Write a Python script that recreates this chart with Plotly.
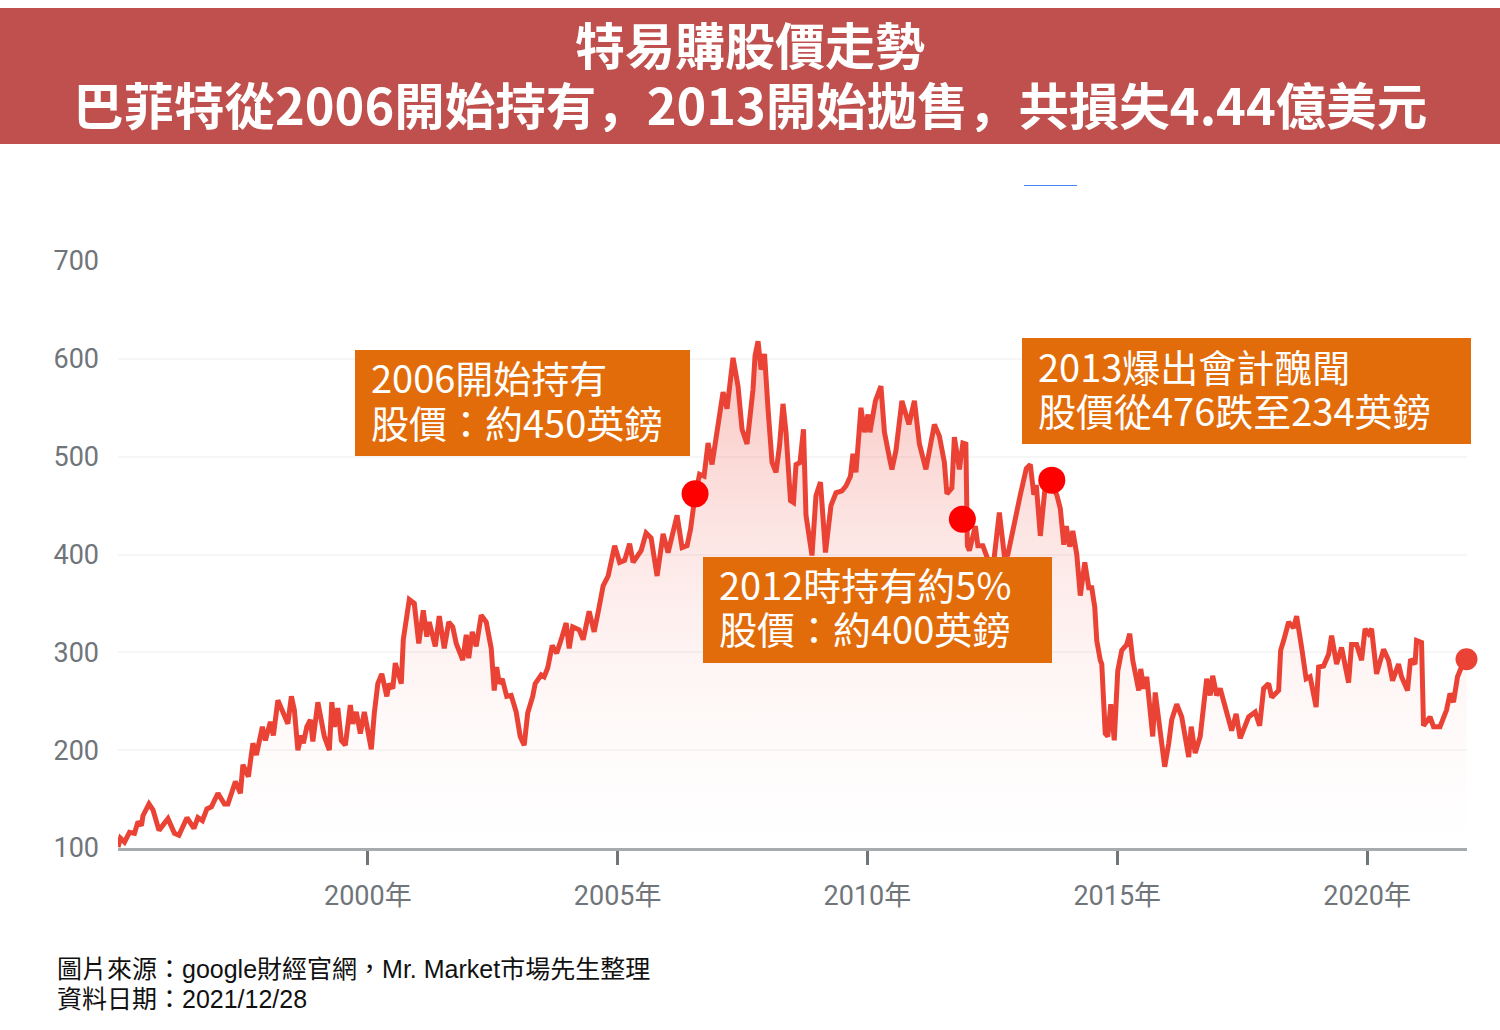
import plotly.graph_objects as go

years = [1995.00,1995.05,1995.13,1995.23,1995.33,1995.40,1995.47,1995.50,1995.62,1995.70,1995.82,1996.00,1996.13,1996.22,1996.30,1996.38,1996.52,1996.60,1996.69,1996.78,1996.87,1997.00,1997.13,1997.20,1997.35,1997.45,1997.50,1997.61,1997.70,1997.77,1997.89,1997.95,1998.05,1998.11,1998.20,1998.29,1998.40,1998.47,1998.53,1998.60,1998.67,1998.71,1998.78,1998.85,1998.90,1999.00,1999.13,1999.23,1999.28,1999.33,1999.40,1999.47,1999.55,1999.65,1999.70,1999.77,1999.85,1999.93,1999.99,2000.07,2000.13,2000.20,2000.28,2000.38,2000.43,2000.50,2000.55,2000.67,2000.71,2000.83,2000.93,2001.02,2001.11,2001.18,2001.23,2001.35,2001.43,2001.53,2001.62,2001.70,2001.77,2001.90,2001.97,2002.02,2002.09,2002.17,2002.27,2002.37,2002.47,2002.53,2002.58,2002.63,2002.69,2002.78,2002.87,2002.97,2003.05,2003.13,2003.20,2003.30,2003.35,2003.47,2003.53,2003.60,2003.69,2003.78,2003.87,2003.97,2004.03,2004.10,2004.23,2004.31,2004.43,2004.53,2004.61,2004.71,2004.81,2004.94,2005.04,2005.14,2005.24,2005.31,2005.47,2005.57,2005.67,2005.79,2005.91,2006.01,2006.19,2006.29,2006.39,2006.46,2006.54,2006.64,2006.73,2006.81,2006.89,2007.01,2007.11,2007.19,2007.31,2007.41,2007.49,2007.59,2007.71,2007.75,2007.81,2007.87,2007.94,2008.01,2008.09,2008.17,2008.24,2008.31,2008.37,2008.46,2008.52,2008.57,2008.65,2008.72,2008.77,2008.89,2008.97,2009.06,2009.16,2009.27,2009.37,2009.49,2009.57,2009.66,2009.71,2009.77,2009.87,2009.94,2010.01,2010.05,2010.16,2010.27,2010.34,2010.44,2010.49,2010.57,2010.69,2010.83,2010.94,2011.04,2011.17,2011.34,2011.44,2011.54,2011.59,2011.69,2011.74,2011.84,2011.91,2011.97,2011.99,2012.00,2012.04,2012.16,2012.21,2012.31,2012.41,2012.51,2012.64,2012.74,2012.81,2012.93,2013.06,2013.18,2013.26,2013.33,2013.38,2013.46,2013.56,2013.69,2013.79,2013.86,2013.93,2013.98,2014.05,2014.11,2014.19,2014.26,2014.35,2014.43,2014.49,2014.55,2014.59,2014.66,2014.69,2014.76,2014.81,2014.87,2014.94,2015.01,2015.09,2015.19,2015.25,2015.31,2015.43,2015.47,2015.53,2015.59,2015.71,2015.76,2015.86,2015.95,2016.03,2016.09,2016.19,2016.29,2016.43,2016.48,2016.56,2016.66,2016.79,2016.86,2016.91,2016.99,2017.06,2017.19,2017.29,2017.38,2017.46,2017.63,2017.76,2017.85,2017.93,2018.03,2018.09,2018.23,2018.27,2018.33,2018.43,2018.53,2018.59,2018.69,2018.78,2018.86,2018.98,2019.03,2019.13,2019.23,2019.29,2019.39,2019.49,2019.63,2019.69,2019.79,2019.89,2019.96,2020.03,2020.09,2020.19,2020.33,2020.43,2020.51,2020.63,2020.69,2020.81,2020.87,2020.96,2020.99,2021.09,2021.13,2021.26,2021.33,2021.46,2021.59,2021.66,2021.73,2021.81,2021.89,2021.99]
prices = [101,110,106,116,115,127,123,133,145,139,118,130,115,113,122,131,120,131,128,140,142,156,145,145,168,156,185,173,207,195,224,210,229,215,251,239,227,255,241,200,215,207,224,231,209,249,214,200,249,224,243,210,205,246,227,239,217,239,224,201,238,268,278,255,268,263,289,268,313,354,350,309,343,316,331,306,337,304,331,326,309,292,318,294,321,306,338,331,304,261,285,268,273,255,256,239,214,205,238,255,268,277,275,284,307,299,313,330,304,326,323,313,342,321,341,368,378,409,392,394,411,392,404,422,417,378,421,402,440,407,409,426,457,482,480,514,492,535,566,549,601,572,528,513,569,603,618,589,605,549,494,484,511,554,525,455,453,492,494,528,440,399,460,474,402,450,463,465,470,480,503,484,550,525,543,525,557,572,525,499,487,506,557,533,557,513,487,533,521,494,462,468,520,487,514,513,460,409,404,429,409,409,395,385,443,399,400,431,461,488,492,461,471,419,471,471,461,447,410,429,408,424,400,358,392,366,366,346,312,292,288,217,214,247,210,281,302,308,319,292,261,283,263,275,214,259,220,183,207,231,247,234,193,224,197,214,273,256,276,256,263,241,220,237,212,234,239,225,263,268,254,261,302,312,331,325,337,305,273,275,244,285,286,298,317,288,305,269,308,308,292,324,319,324,278,303,292,271,288,275,261,293,288,312,310,225,234,224,224,241,258,249,275,285,293]

tick_years = [2000, 2005, 2010, 2015, 2020]
tick_year_labels = ["2000年", "2005年", "2010年", "2015年", "2020年"]
price_ticks = [100, 200, 300, 400, 500, 600, 700]

event_years = [2006.55, 2011.90, 2013.69]
event_prices = [462, 436, 476]

last_year = [2021.99]
last_price = [293]

title_lines = ["特易購股價走勢", "巴菲特從2006開始持有<span style=\"font-family:'Noto Sans CJK SC'\">，</span>2013開始拋售<span style=\"font-family:'Noto Sans CJK SC'\">，</span>共損失4.44億美元"]
callouts = [
    ["2006開始持有", "股價：約450英鎊"],
    ["2012時持有約5%", "股價：約400英鎊"],
    ["2013爆出會計醜聞", "股價從476跌至234英鎊"],
]
source_lines = ["圖片來源：google財經官網，Mr. Market市場先生整理", "資料日期：2021/12/28"]

W, H = 1500, 1030
px = lambda v: v / W
py = lambda v: 1 - v / H
CJK = "Noto Sans CJK TC"
RED = "#ea4335"
ORANGE = "#e36c0a"

fig = go.Figure()
fig.add_trace(go.Scatter(
    x=years, y=prices, mode="lines", line=dict(color=RED, width=5),
    fill="tozeroy",
    fillgradient=dict(type="vertical", colorscale=[
        [0, "rgba(234,67,53,0)"], [0.16, "rgba(234,67,53,0)"], [0.32, "rgba(234,67,53,0.02)"],
        [0.485, "rgba(234,67,53,0.06)"], [0.65, "rgba(234,67,53,0.12)"],
        [0.81, "rgba(234,67,53,0.2)"], [1, "rgba(234,67,53,0.32)"]]),
    showlegend=False, hoverinfo="skip"))
fig.add_trace(go.Scatter(x=event_years, y=event_prices, mode="markers",
                         marker=dict(color="#ff0000", size=27), showlegend=False))
fig.add_trace(go.Scatter(x=last_year, y=last_price, mode="markers", cliponaxis=False,
                         marker=dict(color=RED, size=22), showlegend=False))

shapes = [
    dict(type="rect", xref="paper", yref="paper", x0=0, x1=1, y0=py(144), y1=py(8),
         fillcolor="#c0504d", line_width=0),
    dict(type="rect", xref="paper", yref="paper", x0=px(1024), x1=px(1077), y0=py(186), y1=py(185),
         fillcolor="#4285f4", line_width=0),
]
boxes = [(355, 690, 350, 456), (703, 1052, 557, 663), (1022, 1471, 338, 444)]
for x0, x1, y0, y1 in boxes:
    shapes.append(dict(type="rect", xref="paper", yref="paper", x0=px(x0), x1=px(x1),
                       y0=py(y1), y1=py(y0), fillcolor=ORANGE, line_width=0))

anns = []
def text(s, x, y, size, color, family=CJK, anchor="left", bold=False, box=None):
    anns.append(dict(text=f"<b>{s}</b>" if bold else s, xref="paper", yref="paper",
                     x=px(x), y=py(y), xanchor=anchor, yanchor="middle", showarrow=False,
                     height=box, font=dict(family=family, size=size, color=color)))

text(title_lines[0], 750, 43, 50, "white", anchor="center", bold=True, box=58)
text(title_lines[1], 750, 103, 50.5, "white", anchor="center", bold=True, box=58)
for lines, tx, ys in zip(callouts, (369, 717, 1036), ((376, 421), (583, 627), (365, 409))):
    for s, y in zip(lines, ys):
        text(s, tx, y, 38, "white", box=43)
for s, y in zip(source_lines, (968, 998)):
    text(s, 55, y, 25, "#111111", family=f"Liberation Sans, {CJK}", box=29)

fig.update_layout(
    width=W, height=H, margin=dict(l=0, r=0, t=0, b=0, autoexpand=False),
    paper_bgcolor="white", plot_bgcolor="white", showlegend=False,
    shapes=shapes, annotations=anns,
    xaxis=dict(domain=[px(118), px(1467)], range=[1995, 2022], tickmode="array",
               tickvals=tick_years, ticktext=tick_year_labels, ticks="outside", ticklen=14,
               tickwidth=3, tickcolor="#70757a", showgrid=False, showline=True,
               linecolor="#a8abae", linewidth=3, zeroline=False,
               tickfont=dict(family=f"Roboto, {CJK}", size=27, color="#70757a"),
               ticklabelstandoff=8),
    yaxis=dict(domain=[py(848), py(261)], range=[100, 700], tickmode="array",
               tickvals=price_ticks, ticks="", showgrid=True, gridcolor="#f6f6f6", gridwidth=2,
               showline=False, zeroline=False,
               tickfont=dict(family=f"Roboto, {CJK}", size=27, color="#70757a"),
               ticklabelstandoff=18),
)
fig.write_html("out.html", post_script="document.body.style.margin='0';",
               config={"displayModeBar": False})
